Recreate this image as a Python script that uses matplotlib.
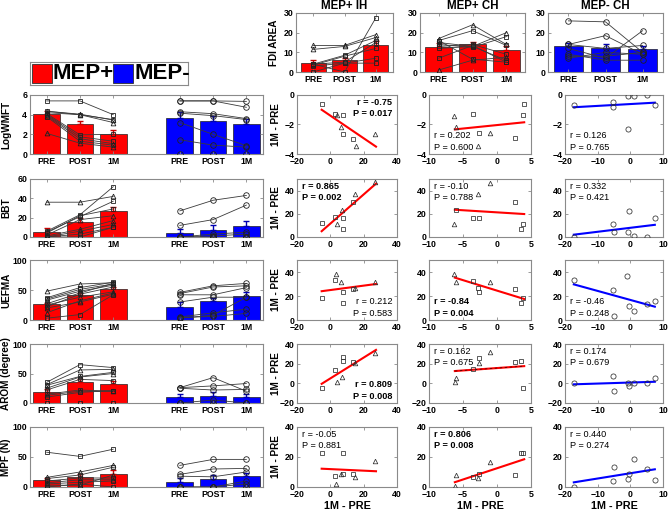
import numpy as np
import matplotlib
matplotlib.use('Agg')
import matplotlib.pyplot as plt
from matplotlib.patches import Rectangle

plt.rcParams['font.family'] = ['Liberation Sans', 'DejaVu Sans']
plt.rcParams['font.weight'] = 'bold'
plt.rcParams['axes.labelweight'] = 'bold'
plt.rcParams['axes.titleweight'] = 'bold'

# ---------------- DATA ----------------
phases = ['PRE', 'POST', '1M']
group_labels = ['MEP+', 'MEP-']
col_titles = ['MEP+ IH', 'MEP+ CH', 'MEP- CH']
measures = ['LogWMFT', 'BBT', 'UEFMA', 'AROM (degree)', 'MPF (N)']

# FDI AREA (top row)
fdi_ih_mean = [4.5, 6.0, 13.5]
fdi_ih_err = [1.5, 1.0, 2.5]
fdi_ih_subj = [[13.5, 13.5, 19], [11.5, 13, 17.5], [4, 0, 27.5], [4, 8.5, 16],
               [3.5, 8, 12], [3, 4.5, 7], [0, 4.5, 4.5], [4, 5, 15]]
fdi_ih_mark = ['^', '^', 's', 's', 's', 's', 's', 's']
fdi_ch_mean = [12.5, 14.0, 11.0]
fdi_ch_err = [2.0, 1.5, 2.0]
fdi_ch_subj = [[17, 24, 14], [16, 21, 13.5], [15, 13, 20], [14, 12.5, 18], [13, 14, 9],
               [12, 13, 6], [7, 13.5, 5], [1, 6, 7.5], [16, 6.5, 5]]
fdi_ch_mark = ['^', 's', '^', 's', 's', 's', 's', '^', 's']
fdi_neg_mean = [13.0, 12.0, 11.5]
fdi_neg_err = [1.5, 2.0, 1.5]
fdi_neg_subj = [[26, 25.5, 10], [14, 18.5, 9], [14, 12, 13.5], [12, 7, 21],
                [9, 6, 6], [8, 8, 10], [7, 10, 9]]

# Left column: clinical measures, MEP+ (red) and MEP- (blue)
wmft_pos_mean = [4.05, 3.0, 2.05]
wmft_pos_err = [0.35, 0.4, 0.35]
wmft_pos_subj = [[5.4, 5.4, 4.0], [4.35, 4.05, 3.45], [4.35, 4.0, 3.5], [4.2, 4.0, 3.2],
                 [4.1, 1.95, 2.0], [4.0, 1.75, 1.3], [3.9, 1.55, 1.05], [3.8, 1.3, 0.9],
                 [2.1, 1.1, 0.7]]
wmft_pos_mark = ['s', '^', 's', '^', 's', 's', '^', 's', '^']
wmft_neg_mean = [3.65, 3.4, 3.05]
wmft_neg_err = [0.6, 0.5, 0.5]
wmft_neg_subj = [[5.4, 5.4, 5.35], [5.4, 5.4, 4.75], [4.3, 4.1, 3.6], [4.15, 3.9, 3.5],
                 [3.2, 2.0, 0.85], [1.45, 0.9, 0.7], [0, 0, 0]]

bbt_pos_mean = [5.5, 15.5, 27.0]
bbt_pos_err = [3.5, 4.0, 4.0]
bbt_pos_subj = [[36, 36, 42], [6, 23, 52], [5, 21, 37], [4, 22, 29], [2, 18, 22],
                [1, 8, 17], [0, 6, 13], [0, 3, 10], [0, 0, 10]]
bbt_pos_mark = ['^', 's', 's', 's', '^', '^', '^', 's', 's']
bbt_neg_mean = [4.5, 7.5, 11.5]
bbt_neg_err = [3.5, 4.5, 5.5]
bbt_neg_subj = [[27, 38, 43], [12, 18, 33], [0, 3, 5], [0, 1, 3], [0, 0, 0], [0, 0, 0]]

fma_pos_mean = [26.0, 41.0, 52.0]
fma_pos_err = [3.0, 4.0, 3.0]
fma_pos_subj = [[48, 60, 62], [37, 54, 63], [35, 51, 60], [33, 48, 58], [27, 45, 61],
                [25, 38, 47], [22, 43, 55], [20, 30, 43], [12, 32, 45], [3, 9, 42]]
fma_pos_mark = ['^', 's', 's', '^', 's', '^', 's', '^', '^', 's']
fma_neg_mean = [22.0, 31.0, 40.0]
fma_neg_err = [8.0, 6.0, 6.0]
fma_neg_subj = [[46, 57, 61], [44, 55, 57], [42, 42, 54], [30, 38, 38],
                [5, 12, 18], [4, 6, 11], [3, 8, 38]]

arom_pos_mean = [19.0, 35.0, 33.0]
arom_pos_err = [4.0, 6.0, 5.0]
arom_pos_subj = [[35, 65, 60], [31, 56, 57], [30, 45, 52], [25, 44, 50], [22, 40, 38],
                 [15, 22, 20], [13, 20, 20], [10, 18, 21], [0, 0, 0]]
arom_pos_mark = ['s', '^', 's', '^', 's', 's', '^', 's', 's']
arom_neg_mean = [10.0, 12.0, 11.0]
arom_neg_err = [5.0, 6.0, 5.0]
arom_neg_subj = [[26, 43, 20], [26, 29, 33], [25, 22, 23], [0, 5, 0], [0, 0, 0]]

mpf_pos_mean = [12.0, 16.0, 22.0]
mpf_pos_err = [3.0, 5.0, 6.0]
mpf_pos_subj = [[58, 51, 63], [16, 25, 36], [14, 20, 33], [10, 15, 15], [7, 12, 12],
                [5, 8, 10], [3, 3, 20], [0, 5, 0]]
mpf_pos_mark = ['s', '^', 's', 's', '^', 's', '^', 's']
mpf_neg_mean = [8.5, 13.5, 18.0]
mpf_neg_err = [6.0, 6.0, 6.0]
mpf_neg_subj = [[36, 46, 46], [21, 30, 31], [18, 17, 25], [0, 0, 10], [0, 0, 5], [0, 0, 0]]

# Scatter: change in FDI area (x) vs change in measure (1M - PRE)
# column 1: MEP+ IH
ih_x = [[-5.2, 2.8, 4.0, 7.4, 6.4, 7.8, 13.8, 15.4, 26.8],
        [-5.2, 2.8, 3.8, 6.8, 7.8, 7.8, 13.8, 14.8, 26.8],
        [-5.2, 2.8, 3.4, 6.4, 7.4, 7.4, 13.8, 14.8, 26.8],
        [-5.2, 2.8, 3.8, 6.8, 7.8, 7.8, 13.8, 14.8, 26.8],
        [-5.2, 2.8, 3.4, 6.4, 7.4, 7.8, 13.8, 14.8, 26.8]]
ih_y = [[-0.6, -1.3, -1.35, -1.33, -2.15, -2.65, -2.95, -3.45, -2.65],
        [12, 17, 11, 23, 16.7, 6.5, 30, 37, 47],
        [18, 33, 38.3, 32, 23.6, 14, 25.6, 26.4, 32],
        [-5, 14, 1, 6, 26.5, 23, 22, 21, 31],
        [22.9, 7.3, 1.8, 8.4, 22.9, 9, 9, 7, 17.3]]
ih_mark = [['s', 's', '^', 's', '^', 's', 's', '^', '^']] + \
          [['s', 's', '^', '^', 's', 's', 's', '^', '^']] * 4
ih_fit_x = [[-5.2, 27.4]] * 5
ih_fit_y = [[-1.0, -3.5], [5, 46], [24, 30], [-0.5, 34], [12.2, 10.5]]
ih_r = ['-0.75', '0.865', '0.212', '0.809', '-0.05']
ih_p = ['0.017', '0.002', '0.583', '0.008', '0.881']

# column 2: MEP+ CH
ch_x = [[-6.3, -6.0, -3.5, -2.6, -2.8, -1.0, 2.7, 3.8, 4.0],
        [-6.3, -6.0, -2.8, -1.0, -3.5, -2.6, 2.7, 3.8, 3.6],
        [-6.3, -6.1, -3.5, -2.8, -2.6, -1.0, 2.7, 3.8, 3.6],
        [-6.1, -6.2, -3.5, -2.7, -2.6, -1.0, 2.7, 3.6, 3.8],
        [-6.1, -6.2, -3.5, -2.8, -2.6, -1.0, 2.7, 3.6, 3.8]]
ch_y = [[-1.4, -2.15, -1.29, -2.6, -3.46, -2.6, -2.94, -1.36, -0.61],
        [11, 22.9, 37, 46.9, 16.7, 16.7, 30, 11.6, 6.5],
        [38.3, 32, 32.8, 26.4, 23.6, 32, 25.6, 18, 13.9],
        [5.7, 1, 14.3, 21, 25.4, 31.5, 22, 23, -5],
        [8, 0.7, 6.9, 6.2, 8.4, 16.9, 8, 22.4, 22.4]]
ch_mark = [['^', '^', 's', 's', '^', '^', 's', 's', 's'],
           ['^', 's', '^', '^', 's', 's', 's', 's', 's'],
           ['^', '^', 's', 's', 's', '^', 's', 's', 's'],
           ['^', '^', 's', '^', 's', '^', 's', 's', 's'],
           ['^', '^', 's', '^', 's', '^', 's', 's', 's']]
ch_fit_x = [[-6.2, 4.0]] * 5
ch_fit_y = [[-2.33, -1.85], [23.5, 19.8], [35.3, 17.5], [12.5, 17.5], [3.2, 18.5]]
ch_r = ['0.202', '-0.10', '-0.84', '0.162', '0.806']
ch_p = ['0.600', '0.788', '0.004', '0.675', '0.008']

# column 3: MEP- CH
neg_x = [[-17.3, -5.3, -5.3, -0.7, 1.2, 5.1, 7.5, -0.7],
         [-17.3, -5.3, -5.0, -0.5, -0.7, 1.2, 5.1, 7.5],
         [-17.3, -5.3, -5.0, -1.0, -0.5, 1.2, 5.1, 7.5],
         [-17.3, -5.3, -5.0, -0.7, -0.5, 1.2, 5.1, 7.5],
         [-17.3, -5.3, -5.0, -0.7, -0.5, 1.2, 5.1, 7.5]]
neg_y = [[-0.68, -0.5, -0.83, -0.05, -0.1, -0.03, -0.68, -2.33],
         [0.3, 11, 4.5, 22, 4.5, 1.1, 0.3, 16.7],
         [33.3, 25, 3.6, 36.7, 11.9, 7.8, 13, 15.8],
         [0, 7.8, -7.5, 0, -2.4, 0, 0, 5],
         [0.2, 4.2, 13.6, 5.1, 8.7, 18.7, 11.8, 4.7]]
neg_fit_x = [[-17.3, 7.5]] * 5
neg_fit_y = [[-0.83, -0.52], [2, 10.5], [29.7, 11.1], [-1, 1.6], [3.1, 11.8]]
neg_r = ['0.126', '0.332', '-0.46', '0.174', '0.440']
neg_p = ['0.765', '0.421', '0.248', '0.679', '0.274']

# ---------------- STYLE / LAYOUT ----------------
W, H = 669, 513
fig = plt.figure(figsize=(W / 100, H / 100), dpi=100)

RED = '#FF0000'
BLUE = '#0000FF'
ERR_RED = '#C80000'
ERR_BLUE = '#0000B0'
LINE_C = '#3a3a3a'
SPINE = '#8a8a8a'
TICK_FS = 6.3


def ax_px(x0, y0, x1, y1):
    return fig.add_axes([x0 / W, 1 - y1 / H, (x1 - x0) / W, (y1 - y0) / H])


def style(ax, fs=TICK_FS):
    for s in ax.spines.values():
        s.set_color(SPINE)
        s.set_linewidth(0.8)
    ax.tick_params(direction='in', top=True, right=True, length=2.5, width=0.6,
                   color=SPINE, labelsize=fs, pad=2)
    for lab in ax.get_xticklabels() + ax.get_yticklabels():
        lab.set_fontweight('bold')


def set_ylab(ax, text, x_px, fs=7.2):
    ax.set_ylabel(text, fontsize=fs, fontweight='bold')
    bb = ax.get_position()
    ax.yaxis.set_label_coords((x_px / W - bb.x0) / bb.width, 0.5)


def draw_group(ax, xs, mean, err, subj, marks, color, ecolor):
    ax.bar(xs, mean, width=0.8, color=color, edgecolor='#202020', linewidth=0.5, zorder=1)
    ax.errorbar(xs, mean, yerr=[np.zeros(len(err)), err], fmt='none', ecolor=ecolor,
                elinewidth=1.0, capsize=2, capthick=1.0, zorder=2)
    for i, s in enumerate(subj):
        m = marks[i] if marks is not None else 'o'
        ms = 3.4 if m != 'o' else 4.0
        ax.plot(xs, s, color=LINE_C, lw=0.6, marker=m, ms=ms, mfc='none',
                mec='#202020', mew=0.6, zorder=3)


# Top row: FDI AREA
top_pos = [(296, 393), (420, 525), (548, 663)]
fdi_sets = [(fdi_ih_mean, fdi_ih_err, fdi_ih_subj, fdi_ih_mark, RED, ERR_RED),
            (fdi_ch_mean, fdi_ch_err, fdi_ch_subj, fdi_ch_mark, RED, ERR_RED),
            (fdi_neg_mean, fdi_neg_err, fdi_neg_subj, None, BLUE, ERR_BLUE)]
for c, (x0, x1) in enumerate(top_pos):
    ax = ax_px(x0, 13, x1, 72)
    mean, err, subj, marks, col, ecol = fdi_sets[c]
    xs = np.arange(1, 4)
    draw_group(ax, xs, mean, err, subj, marks, col, ecol)
    ax.set_xlim(0.45, 3.55)
    ax.set_ylim(0, 30)
    ax.set_yticks([0, 10, 20, 30])
    ax.set_xticks(xs)
    ax.set_xticklabels(phases)
    ax.set_title(col_titles[c], fontsize=8.3, fontweight='bold', pad=3)
    if c == 0:
        set_ylab(ax, 'FDI AREA', 279)
    style(ax)

# Legend box
lax = ax_px(30, 62, 188, 85)
lax.set_xlim(0, 158)
lax.set_ylim(0, 23)
lax.set_xticks([])
lax.set_yticks([])
for s in lax.spines.values():
    s.set_color(SPINE)
    s.set_linewidth(0.8)
lax.add_patch(Rectangle((2, 2), 20, 19, facecolor=RED, edgecolor='#303030', lw=0.6))
lax.text(23, 11.5, group_labels[0], fontsize=16, fontweight='bold', va='center', ha='left')
lax.add_patch(Rectangle((83, 2), 20, 19, facecolor=BLUE, edgecolor='#303030', lw=0.6))
lax.text(104, 11.5, group_labels[1], fontsize=16, fontweight='bold', va='center', ha='left')

# Left column
rows_y = [(95, 154), (179, 237), (260, 320), (344, 403), (427, 487)]
left_sets = [
    (wmft_pos_mean, wmft_pos_err, wmft_pos_subj, wmft_pos_mark, wmft_neg_mean, wmft_neg_err, wmft_neg_subj),
    (bbt_pos_mean, bbt_pos_err, bbt_pos_subj, bbt_pos_mark, bbt_neg_mean, bbt_neg_err, bbt_neg_subj),
    (fma_pos_mean, fma_pos_err, fma_pos_subj, fma_pos_mark, fma_neg_mean, fma_neg_err, fma_neg_subj),
    (arom_pos_mean, arom_pos_err, arom_pos_subj, arom_pos_mark, arom_neg_mean, arom_neg_err, arom_neg_subj),
    (mpf_pos_mean, mpf_pos_err, mpf_pos_subj, mpf_pos_mark, mpf_neg_mean, mpf_neg_err, mpf_neg_subj),
]
left_ylim = [(0, 6), (0, 60), (0, 100), (0, 100), (0, 100)]
left_yticks = [[0, 2, 4, 6], [0, 20, 40, 60], [0, 50, 100], [0, 50, 100], [0, 50, 100]]
for r, (y0, y1) in enumerate(rows_y):
    ax = ax_px(30, y0, 263, y1)
    pm, pe, ps, pmk, nm, ne, ns = left_sets[r]
    xp = np.array([1, 2, 3])
    xn = np.array([5, 6, 7])
    draw_group(ax, xp, pm, pe, ps, pmk, RED, ERR_RED)
    draw_group(ax, xn, nm, ne, ns, None, BLUE, ERR_BLUE)
    ax.set_xlim(0.5, 7.5)
    ax.set_ylim(*left_ylim[r])
    ax.set_yticks(left_yticks[r])
    ax.set_xticks(list(xp) + list(xn))
    ax.set_xticklabels(phases + phases)
    set_ylab(ax, measures[r], 11)
    style(ax)

# Scatter columns
scat_cols = [(297, 397), (429, 531), (565, 663)]
scat_ylim = [(-4, 0), (0, 50), (0, 50), (-20, 40), (0, 40)]
scat_yticks = [[-4, -2, 0], [0, 20, 40], [0, 20, 40], [-20, 0, 20, 40], [0, 20, 40]]
col_xlim = [(-20, 40), (-10, 5), (-20, 10)]
col_xticks = [[-20, 0, 20, 40], [-10, -5, 0, 5], [-20, -10, 0, 10]]
col_data = [(ih_x, ih_y, ih_mark, ih_fit_x, ih_fit_y, ih_r, ih_p, RED),
            (ch_x, ch_y, ch_mark, ch_fit_x, ch_fit_y, ch_r, ch_p, RED),
            (neg_x, neg_y, None, neg_fit_x, neg_fit_y, neg_r, neg_p, BLUE)]
# text placement per panel (col, row): location code and bold flag
txt_loc = [['TR', 'TL', 'BR', 'BR', 'TL'],
           ['BL', 'TL', 'BL', 'TL', 'TL'],
           ['BL', 'TL', 'BL', 'TL', 'TL']]
txt_bold = [[True, True, False, True, False],
            [False, False, True, False, True],
            [False, False, False, False, False]]

for c, (x0, x1) in enumerate(scat_cols):
    xs_all, ys_all, mk_all, fx_all, fy_all, rr, pp, lc = col_data[c]
    for r, (y0, y1) in enumerate(rows_y):
        ax = ax_px(x0, y0, x1, y1)
        xs, ys = xs_all[r], ys_all[r]
        for i in range(len(xs)):
            m = mk_all[r][i] if mk_all is not None else 'o'
            ms = 3.3 if m != 'o' else 3.7
            ax.plot(xs[i], ys[i], linestyle='none', marker=m, ms=ms, mfc='none',
                    mec='#303030', mew=0.55, zorder=3)
        ax.plot(fx_all[r], fy_all[r], color=lc, lw=1.5, zorder=2)
        if c == 1 and r == 3:
            ax.plot(fx_all[r], fy_all[r], color='#500000', lw=0.6, ls=(0, (3, 3)), zorder=2)
        ax.set_xlim(*col_xlim[c])
        ax.set_ylim(*scat_ylim[r])
        ax.set_xticks(col_xticks[c])
        ax.set_yticks(scat_yticks[r])
        loc = txt_loc[c][r]
        fw = 'bold' if txt_bold[c][r] else 'normal'
        tx = 0.05 if loc[1] == 'L' else 0.95
        ha = 'left' if loc[1] == 'L' else 'right'
        ty = 0.95 if loc[0] == 'T' else 0.04
        va = 'top' if loc[0] == 'T' else 'bottom'
        ax.text(tx, ty, 'r = %s\nP = %s' % (rr[r], pp[r]), transform=ax.transAxes,
                ha=ha, va=va, fontsize=6.6, fontweight=fw, linespacing=1.35)
        if c == 0:
            set_ylab(ax, '1M - PRE', 281)
        if r == 4:
            ax.set_xlabel('1M - PRE', fontsize=7.8, fontweight='bold', labelpad=1.5)
        style(ax)

fig.savefig('out.png', dpi=100)
